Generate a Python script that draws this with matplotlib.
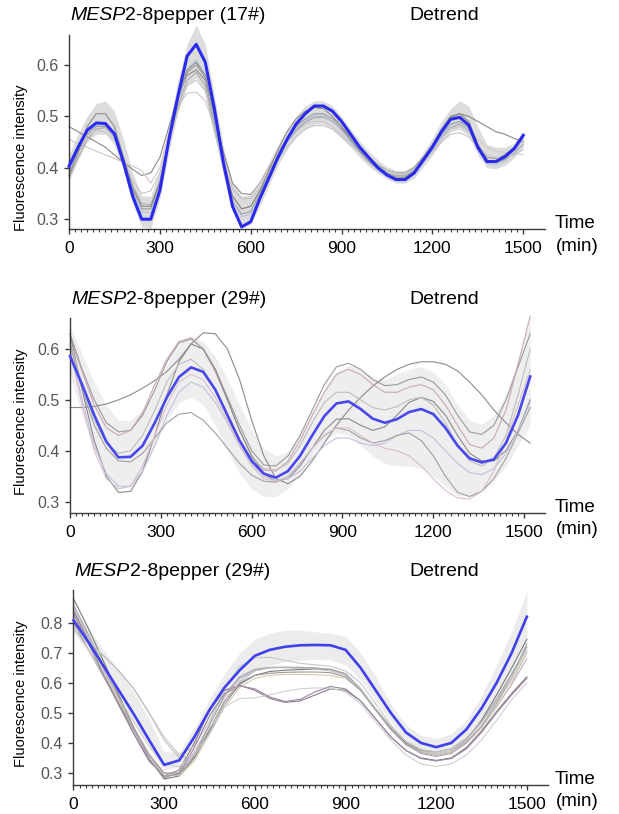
import matplotlib.pyplot as plt
import numpy as np
from matplotlib.ticker import FixedLocator

plt.rcParams['font.family'] = ['Liberation Sans', 'DejaVu Sans']

# ---------------- panel 1 data (17#), sampled every 30 min ----------------
t1 = np.arange(0, 1501, 30)
p1_mean = [0.403, 0.44, 0.473, 0.487, 0.486, 0.466, 0.41, 0.345, 0.30, 0.30,
           0.356, 0.455, 0.54, 0.617, 0.64, 0.605, 0.515, 0.41, 0.325, 0.285,
           0.295, 0.34, 0.38, 0.42, 0.455, 0.485, 0.505, 0.52, 0.52, 0.51,
           0.49, 0.465, 0.44, 0.42, 0.40, 0.386, 0.377, 0.377, 0.39, 0.415,
           0.44, 0.47, 0.494, 0.498, 0.483, 0.44, 0.412, 0.412, 0.422, 0.437,
           0.463]
p1_lo = [0.375, 0.415, 0.45, 0.465, 0.465, 0.445, 0.395, 0.33, 0.285, 0.282,
         0.34, 0.43, 0.51, 0.56, 0.575, 0.545, 0.465, 0.385, 0.315, 0.285,
         0.29, 0.325, 0.365, 0.405, 0.435, 0.46, 0.475, 0.485, 0.485, 0.475,
         0.458, 0.44, 0.42, 0.403, 0.39, 0.378, 0.37, 0.37, 0.38, 0.402,
         0.425, 0.45, 0.47, 0.475, 0.462, 0.425, 0.40, 0.398, 0.405, 0.42,
         0.44]
p1_hi = [0.425, 0.465, 0.50, 0.525, 0.53, 0.51, 0.455, 0.39, 0.345, 0.345,
         0.395, 0.48, 0.57, 0.64, 0.677, 0.64, 0.54, 0.44, 0.37, 0.345,
         0.345, 0.375, 0.41, 0.445, 0.475, 0.50, 0.52, 0.53, 0.53, 0.52,
         0.50, 0.475, 0.452, 0.432, 0.415, 0.402, 0.395, 0.395, 0.405, 0.43,
         0.458, 0.49, 0.515, 0.53, 0.52, 0.48, 0.445, 0.44, 0.44, 0.448,
         0.47]
p1_cells = [
    ('#8a8a8a', [0.48, 0.47, 0.46, 0.45, 0.44, 0.425, 0.41, 0.397, 0.385, 0.39,
                 0.42, 0.48, 0.54, 0.58, 0.59, 0.57, 0.50, 0.43, 0.37, 0.35,
                 0.348, 0.37, 0.40, 0.43, 0.455, 0.475, 0.49, 0.50, 0.50, 0.49,
                 0.475, 0.455, 0.435, 0.42, 0.405, 0.395, 0.39, 0.39, 0.40, 0.42,
                 0.445, 0.475, 0.50, 0.505, 0.50, 0.49, 0.48, 0.47, 0.465, 0.457,
                 0.45]),
    ('#d4c4cc', [0.455, 0.447, 0.44, 0.432, 0.425, 0.418, 0.41, 0.403, 0.395, 0.37,
                 0.40, 0.47, 0.52, 0.545, 0.547, 0.53, 0.48, 0.41, 0.36, 0.34,
                 0.345, 0.37, 0.40, 0.43, 0.45, 0.47, 0.485, 0.49, 0.49, 0.48,
                 0.465, 0.45, 0.43, 0.415, 0.40, 0.39, 0.385, 0.385, 0.395, 0.41,
                 0.43, 0.455, 0.475, 0.48, 0.47, 0.455, 0.44, 0.432, 0.43, 0.428,
                 0.425]),
    ('#9c9c9c', [0.39, 0.43, 0.465, 0.48, 0.48, 0.46, 0.41, 0.355, 0.32, 0.32,
                 0.37, 0.45, 0.53, 0.585, 0.60, 0.575, 0.49, 0.40, 0.335, 0.31,
                 0.315, 0.35, 0.39, 0.425, 0.455, 0.48, 0.495, 0.505, 0.505, 0.495,
                 0.48, 0.46, 0.44, 0.42, 0.405, 0.39, 0.382, 0.382, 0.395, 0.415,
                 0.44, 0.465, 0.485, 0.49, 0.478, 0.445, 0.42, 0.418, 0.425, 0.44,
                 0.46]),
    ('#ababab', [0.38, 0.42, 0.455, 0.475, 0.478, 0.462, 0.42, 0.365, 0.33, 0.328,
                 0.375, 0.45, 0.52, 0.57, 0.585, 0.56, 0.48, 0.40, 0.345, 0.32,
                 0.325, 0.355, 0.39, 0.42, 0.45, 0.472, 0.488, 0.497, 0.498, 0.49,
                 0.475, 0.455, 0.435, 0.415, 0.40, 0.39, 0.385, 0.385, 0.395, 0.413,
                 0.435, 0.46, 0.478, 0.484, 0.474, 0.44, 0.415, 0.41, 0.416, 0.428,
                 0.445]),
    ('#b4c4dc', [0.395, 0.435, 0.468, 0.482, 0.482, 0.463, 0.415, 0.36, 0.315, 0.312,
                 0.365, 0.45, 0.535, 0.59, 0.61, 0.58, 0.495, 0.405, 0.335, 0.305,
                 0.31, 0.345, 0.385, 0.42, 0.45, 0.475, 0.49, 0.50, 0.50, 0.49,
                 0.472, 0.45, 0.43, 0.41, 0.395, 0.383, 0.375, 0.376, 0.388, 0.41,
                 0.435, 0.462, 0.483, 0.487, 0.473, 0.435, 0.408, 0.405, 0.413, 0.43,
                 0.455]),
    ('#c6c6c6', [0.41, 0.44, 0.462, 0.472, 0.47, 0.455, 0.415, 0.375, 0.35, 0.355,
                 0.39, 0.45, 0.51, 0.56, 0.57, 0.55, 0.47, 0.405, 0.36, 0.34,
                 0.34, 0.36, 0.39, 0.415, 0.44, 0.46, 0.475, 0.482, 0.482, 0.475,
                 0.46, 0.445, 0.43, 0.415, 0.402, 0.395, 0.39, 0.39, 0.398, 0.41,
                 0.43, 0.45, 0.465, 0.468, 0.46, 0.44, 0.425, 0.42, 0.42, 0.425,
                 0.435]),
    ('#8c8c8c', [0.385, 0.43, 0.48, 0.505, 0.505, 0.48, 0.42, 0.36, 0.325, 0.325,
                 0.37, 0.455, 0.54, 0.59, 0.605, 0.58, 0.50, 0.41, 0.345, 0.32,
                 0.325, 0.355, 0.395, 0.435, 0.47, 0.495, 0.51, 0.517, 0.515, 0.50,
                 0.48, 0.455, 0.432, 0.413, 0.398, 0.386, 0.38, 0.38, 0.392, 0.415,
                 0.443, 0.472, 0.497, 0.505, 0.49, 0.445, 0.415, 0.41, 0.418, 0.435,
                 0.46]),
]

# ---------------- panel 2 data (29#), sampled every 40 min ----------------
t2 = np.arange(0, 1521, 40)
p2_mean = [0.586, 0.53, 0.47, 0.418, 0.387, 0.388, 0.41, 0.455, 0.505, 0.545,
           0.564, 0.555, 0.52, 0.47, 0.42, 0.38, 0.355, 0.347, 0.36, 0.39,
           0.43, 0.468, 0.493, 0.497, 0.482, 0.463, 0.455, 0.462, 0.476, 0.482,
           0.472, 0.445, 0.41, 0.385, 0.377, 0.383, 0.415, 0.47, 0.546]
p2_lo = [0.55, 0.47, 0.40, 0.35, 0.325, 0.33, 0.36, 0.41, 0.46, 0.495,
         0.505, 0.49, 0.45, 0.40, 0.355, 0.325, 0.31, 0.31, 0.325, 0.355,
         0.39, 0.42, 0.435, 0.43, 0.41, 0.39, 0.375, 0.37, 0.37, 0.365,
         0.35, 0.33, 0.312, 0.31, 0.32, 0.34, 0.37, 0.41, 0.45]
p2_hi = [0.645, 0.59, 0.535, 0.49, 0.46, 0.46, 0.48, 0.52, 0.57, 0.61,
         0.625, 0.615, 0.585, 0.54, 0.49, 0.44, 0.405, 0.39, 0.40, 0.43,
         0.475, 0.52, 0.555, 0.568, 0.56, 0.545, 0.54, 0.55, 0.56, 0.565,
         0.555, 0.53, 0.49, 0.46, 0.452, 0.47, 0.51, 0.58, 0.66]
p2_cells = [
    ('#8c8c8c', [0.485, 0.485, 0.487, 0.492, 0.50, 0.51, 0.523, 0.538, 0.556, 0.58,
                 0.61, 0.632, 0.63, 0.60, 0.54, 0.46, 0.39, 0.345, 0.335, 0.35,
                 0.38, 0.415, 0.45, 0.48, 0.505, 0.527, 0.545, 0.56, 0.57, 0.575,
                 0.575, 0.57, 0.557, 0.535, 0.51, 0.48, 0.455, 0.432, 0.415]),
    ('#9a9a9a', [0.63, 0.56, 0.50, 0.455, 0.437, 0.44, 0.47, 0.52, 0.575, 0.612,
                 0.62, 0.60, 0.56, 0.505, 0.45, 0.40, 0.372, 0.37, 0.39, 0.43,
                 0.48, 0.53, 0.565, 0.572, 0.56, 0.54, 0.528, 0.53, 0.54, 0.545,
                 0.535, 0.51, 0.47, 0.437, 0.432, 0.45, 0.50, 0.565, 0.63]),
    ('#c8a8b8', [0.625, 0.555, 0.49, 0.445, 0.43, 0.44, 0.475, 0.53, 0.58, 0.615,
                 0.622, 0.60, 0.555, 0.50, 0.44, 0.39, 0.362, 0.36, 0.38, 0.42,
                 0.47, 0.515, 0.55, 0.56, 0.55, 0.53, 0.515, 0.515, 0.525, 0.53,
                 0.52, 0.49, 0.45, 0.412, 0.405, 0.425, 0.48, 0.57, 0.665]),
    ('#8a8a8a', [0.63, 0.52, 0.42, 0.35, 0.318, 0.32, 0.36, 0.43, 0.51, 0.575,
                 0.61, 0.60, 0.56, 0.50, 0.44, 0.39, 0.355, 0.34, 0.345, 0.37,
                 0.405, 0.44, 0.462, 0.463, 0.45, 0.44, 0.447, 0.47, 0.495, 0.505,
                 0.497, 0.47, 0.43, 0.395, 0.38, 0.38, 0.40, 0.44, 0.50]),
    ('#c0c0dc', [0.60, 0.50, 0.41, 0.355, 0.33, 0.33, 0.36, 0.41, 0.47, 0.515,
                 0.535, 0.525, 0.495, 0.455, 0.41, 0.375, 0.35, 0.34, 0.345, 0.36,
                 0.385, 0.41, 0.425, 0.425, 0.415, 0.41, 0.415, 0.43, 0.44, 0.44,
                 0.425, 0.40, 0.375, 0.357, 0.353, 0.365, 0.395, 0.44, 0.495]),
    ('#a0a0a0', [0.61, 0.52, 0.45, 0.405, 0.38, 0.378, 0.395, 0.425, 0.455, 0.472,
                 0.475, 0.46, 0.435, 0.405, 0.375, 0.352, 0.34, 0.338, 0.35, 0.375,
                 0.405, 0.43, 0.445, 0.44, 0.425, 0.415, 0.42, 0.43, 0.435, 0.42,
                 0.39, 0.35, 0.318, 0.31, 0.32, 0.345, 0.385, 0.435, 0.485]),
    ('#bdbdbd', [0.615, 0.53, 0.46, 0.415, 0.395, 0.40, 0.43, 0.48, 0.535, 0.57,
                 0.58, 0.56, 0.52, 0.47, 0.42, 0.385, 0.365, 0.362, 0.375, 0.41,
                 0.455, 0.495, 0.515, 0.515, 0.50, 0.485, 0.48, 0.487, 0.50, 0.505,
                 0.49, 0.455, 0.41, 0.38, 0.37, 0.385, 0.43, 0.51, 0.60]),
    ('#d8c0cc', [0.60, 0.49, 0.40, 0.345, 0.325, 0.33, 0.37, 0.43, 0.49, 0.535,
                 0.55, 0.54, 0.505, 0.46, 0.41, 0.37, 0.345, 0.34, 0.35, 0.375,
                 0.405, 0.43, 0.445, 0.445, 0.43, 0.415, 0.405, 0.40, 0.39, 0.37,
                 0.345, 0.322, 0.307, 0.305, 0.32, 0.36, 0.42, 0.49, 0.56]),
]

# ---------------- panel 3 data (29#), sampled every 50 min ----------------
t3 = np.arange(0, 1501, 50)
p3_mean = [0.808, 0.735, 0.655, 0.575, 0.495, 0.41, 0.327, 0.342, 0.42, 0.51,
           0.585, 0.642, 0.69, 0.71, 0.72, 0.725, 0.726, 0.725, 0.71, 0.65,
           0.575, 0.50, 0.435, 0.40, 0.386, 0.40, 0.445, 0.515, 0.60, 0.70,
           0.82]
p3_lo = [0.77, 0.70, 0.625, 0.545, 0.465, 0.385, 0.31, 0.32, 0.39, 0.475,
         0.545, 0.595, 0.64, 0.66, 0.67, 0.675, 0.678, 0.676, 0.66, 0.61,
         0.54, 0.47, 0.41, 0.375, 0.365, 0.375, 0.415, 0.475, 0.55, 0.64,
         0.74]
p3_hi = [0.85, 0.78, 0.71, 0.64, 0.57, 0.48, 0.37, 0.37, 0.45, 0.545,
         0.63, 0.70, 0.745, 0.765, 0.775, 0.775, 0.77, 0.765, 0.755, 0.70,
         0.62, 0.53, 0.46, 0.425, 0.415, 0.43, 0.475, 0.555, 0.66, 0.77,
         0.905]
p3_cells = [
    ('#7a7a7a', [0.88, 0.78, 0.67, 0.56, 0.45, 0.35, 0.28, 0.29, 0.35, 0.44,
                 0.53, 0.595, 0.625, 0.638, 0.642, 0.644, 0.645, 0.645, 0.63, 0.58,
                 0.51, 0.445, 0.395, 0.37, 0.36, 0.37, 0.41, 0.475, 0.56, 0.65,
                 0.745]),
    ('#8a7a8a', [0.84, 0.74, 0.63, 0.53, 0.43, 0.34, 0.29, 0.31, 0.40, 0.51,
                 0.575, 0.592, 0.575, 0.548, 0.535, 0.54, 0.56, 0.58, 0.575, 0.54,
                 0.48, 0.42, 0.375, 0.35, 0.342, 0.35, 0.385, 0.44, 0.505, 0.565,
                 0.62]),
    ('#c8c8c8', [0.78, 0.73, 0.69, 0.64, 0.58, 0.50, 0.42, 0.36, 0.39, 0.47,
                 0.58, 0.655, 0.683, 0.685, 0.675, 0.665, 0.66, 0.655, 0.64, 0.60,
                 0.53, 0.46, 0.405, 0.375, 0.365, 0.375, 0.41, 0.465, 0.535, 0.61,
                 0.70]),
    ('#bfb0cc', [0.85, 0.75, 0.645, 0.54, 0.44, 0.35, 0.285, 0.30, 0.37, 0.46,
                 0.555, 0.615, 0.64, 0.65, 0.652, 0.652, 0.65, 0.645, 0.63, 0.58,
                 0.51, 0.45, 0.40, 0.37, 0.36, 0.37, 0.405, 0.455, 0.52, 0.595,
                 0.68]),
    ('#d6c8ac', [0.82, 0.73, 0.635, 0.54, 0.45, 0.365, 0.30, 0.29, 0.34, 0.43,
                 0.52, 0.585, 0.615, 0.625, 0.628, 0.628, 0.627, 0.625, 0.615, 0.575,
                 0.51, 0.45, 0.40, 0.372, 0.362, 0.37, 0.40, 0.45, 0.52, 0.60,
                 0.70]),
    ('#9a9a9a', [0.80, 0.71, 0.62, 0.53, 0.445, 0.36, 0.30, 0.30, 0.355, 0.445,
                 0.54, 0.60, 0.625, 0.632, 0.635, 0.636, 0.636, 0.634, 0.62, 0.575,
                 0.51, 0.45, 0.40, 0.375, 0.37, 0.38, 0.415, 0.47, 0.545, 0.63,
                 0.72]),
    ('#cfcfcf', [0.78, 0.71, 0.63, 0.55, 0.47, 0.39, 0.33, 0.32, 0.37, 0.45,
                 0.52, 0.548, 0.55, 0.56, 0.572, 0.58, 0.583, 0.583, 0.57, 0.53,
                 0.47, 0.41, 0.36, 0.33, 0.322, 0.33, 0.36, 0.41, 0.475, 0.545,
                 0.60]),
    ('#9a8aa0', [0.83, 0.73, 0.625, 0.525, 0.43, 0.345, 0.285, 0.30, 0.385, 0.49,
                 0.565, 0.59, 0.58, 0.553, 0.538, 0.545, 0.57, 0.588, 0.58, 0.54,
                 0.48, 0.42, 0.375, 0.348, 0.34, 0.348, 0.38, 0.435, 0.50, 0.56,
                 0.615]),
    ('#a6a6a6', [0.86, 0.76, 0.655, 0.55, 0.45, 0.36, 0.29, 0.295, 0.36, 0.46,
                 0.56, 0.62, 0.645, 0.652, 0.652, 0.65, 0.648, 0.645, 0.63, 0.58,
                 0.51, 0.445, 0.395, 0.365, 0.355, 0.365, 0.40, 0.455, 0.53, 0.62,
                 0.73]),
    ('#c0c0c0', [0.79, 0.74, 0.69, 0.64, 0.58, 0.50, 0.41, 0.35, 0.36, 0.43,
                 0.53, 0.605, 0.64, 0.65, 0.65, 0.648, 0.645, 0.64, 0.625, 0.58,
                 0.515, 0.455, 0.405, 0.378, 0.37, 0.38, 0.415, 0.47, 0.54, 0.62,
                 0.71]),
]

panels = [
    dict(t=t1, mean=p1_mean, lo=p1_lo, hi=p1_hi, cells=p1_cells, name='(17#)',
         rect=[0.1115, 0.7187, 0.769, 0.2383], xmax=1572, ylim=(0.281, 0.658),
         yticks=[0.3, 0.4, 0.5, 0.6], band='#dcdcdc', blue='#2a2aee', lw=2.2,
         title_y=15, label_y=158, time_y=224),
    dict(t=t2, mean=p2_mean, lo=p2_lo, hi=p2_hi, cells=p2_cells, name='(29#)',
         rect=[0.1131, 0.3701, 0.7674, 0.2392], xmax=1569, ylim=(0.278, 0.661),
         yticks=[0.3, 0.4, 0.5, 0.6], band='#eeeeee', blue='#4848ee', lw=1.9,
         title_y=299, label_y=422, time_y=507),
    dict(t=t3, mean=p3_mean, lo=p3_lo, hi=p3_hi, cells=p3_cells, name='(29#)',
         rect=[0.1187, 0.0356, 0.7666, 0.2396], xmax=1570, ylim=(0.260, 0.909),
         yticks=[0.3, 0.4, 0.5, 0.6, 0.7, 0.8], band='#ececec', blue='#4040ee', lw=1.9,
         title_y=572, label_y=694, time_y=779),
]

W, H = 619, 814
fig = plt.figure(figsize=(W / 100, H / 100), dpi=100)

for p in panels:
    ax = fig.add_axes(p['rect'])
    ax.fill_between(p['t'], p['lo'], p['hi'], color=p['band'], lw=0, clip_on=False, zorder=1)
    for c, vals in p['cells']:
        ax.plot(p['t'], vals, color=c, lw=0.8, zorder=2, clip_on=False)
    ax.plot(p['t'], p['mean'], color=p['blue'], lw=p['lw'], zorder=3, clip_on=False)

    ax.set_xlim(0, p['xmax'])
    ax.set_ylim(*p['ylim'])
    ax.set_xticks([0, 300, 600, 900, 1200, 1500])
    ax.xaxis.set_minor_locator(FixedLocator(np.arange(0, 1501, 20)))
    ax.set_yticks(p['yticks'])
    ax.set_yticklabels([f'{v:.1f}' for v in p['yticks']])
    for s in ['top', 'right']:
        ax.spines[s].set_visible(False)
    for s in ['left', 'bottom']:
        ax.spines[s].set_color('#3a3a3a')
        ax.spines[s].set_linewidth(1.0)
    ax.tick_params(axis='x', which='major', length=3.5, width=1.0, color='#3a3a3a',
                   labelsize=12.5, pad=5, labelcolor='black')
    ax.tick_params(axis='x', which='minor', length=2, width=0.8, color='#3a3a3a')
    ax.tick_params(axis='y', length=3.5, width=1.0, color='#3a3a3a',
                   labelsize=11.5, pad=4, labelcolor='#555555')
    ax.patch.set_alpha(0)

    x0 = p['rect'][0] * W
    tt = fig.text((x0 + 1) / W, 1 - p['title_y'] / H, 'MESP', style='italic',
                  fontsize=14, va='center', ha='left')
    ax.annotate('2-8pepper ' + p['name'], xy=(1, 0.5), xycoords=tt, va='center',
                ha='left', fontsize=14, annotation_clip=False)
    fig.text(444 / W, 1 - p['title_y'] / H, 'Detrend', fontsize=14, va='center', ha='center')
    fig.text(21 / W, 1 - p['label_y'] / H, 'Fluorescence intensity', rotation=90,
             fontsize=10.5, va='center', ha='center')
    fig.text(555 / W, 1 - p['time_y'] / H, 'Time', fontsize=13.5, va='center', ha='left')
    fig.text(556 / W, 1 - (p['time_y'] + 23) / H, '(min)', fontsize=13.5, va='center', ha='left')

fig.savefig('out.png', dpi=100)
